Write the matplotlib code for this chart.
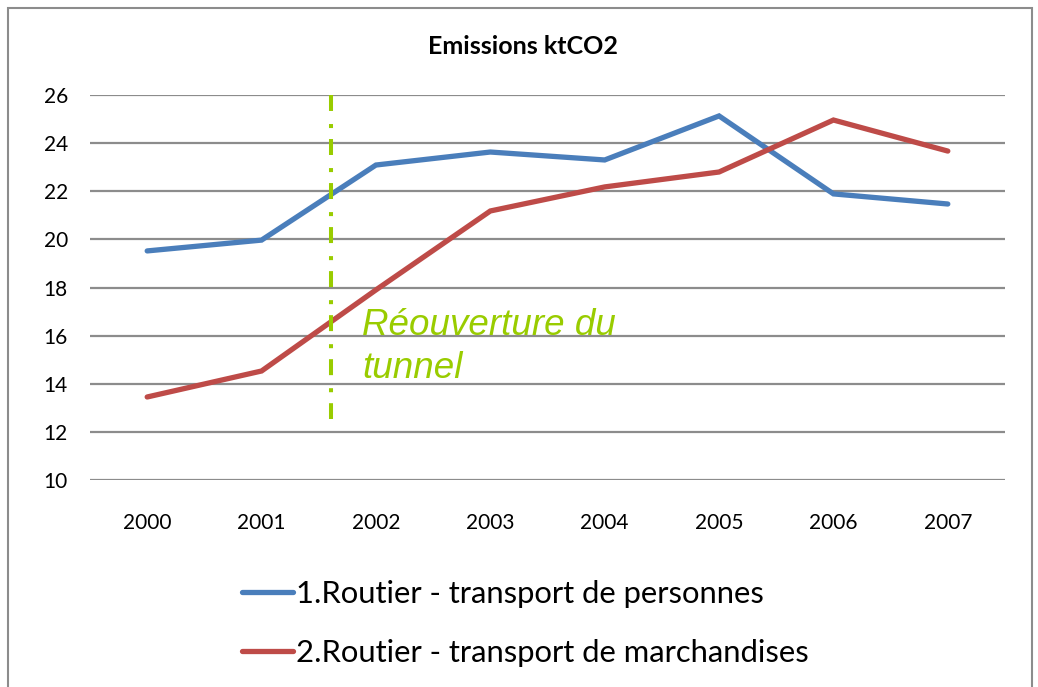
import matplotlib
matplotlib.use("Agg")
import matplotlib.pyplot as plt
from matplotlib.patches import Rectangle

years = ["2000", "2001", "2002", "2003", "2004", "2005", "2006", "2007"]
personnes = [19.52, 19.97, 23.09, 23.63, 23.3, 25.13, 21.89, 21.47]
marchandises = [13.45, 14.53, 17.9, 21.18, 22.18, 22.8, 24.96, 23.67]
label_personnes = "1.Routier - transport de personnes"
label_marchandises = "2.Routier - transport de marchandises"
title = "Emissions ktCO2"
annotation = "Réouverture du\ntunnel"
reopen_pos = 1.61
reopen_ymax = 12.55
yticks = [10, 12, 14, 16, 18, 20, 22, 24, 26]

W, H = 1038, 687
plt.rcParams['lines.scale_dashes'] = False
fig = plt.figure(figsize=(W / 100, H / 100), dpi=100)
plt.rcParams['font.family'] = ['Lato', 'DejaVu Sans']

ax = fig.add_axes([90 / W, 1 - 480 / H, (1005 - 90) / W, (480 - 95) / H])
x = list(range(len(years)))
l1, = ax.plot(x, personnes, color='#4A7EBB', lw=3.8, solid_capstyle='round', solid_joinstyle='miter', zorder=3)
l2, = ax.plot(x, marchandises, color='#BE4B48', lw=3.8, solid_capstyle='round', solid_joinstyle='miter', zorder=3)

ax.set_xlim(-0.5, len(years) - 0.5)
ax.set_ylim(10, 26)
ax.set_yticks(yticks)
ax.set_xticks(x)
ax.set_xticklabels(years)
ax.grid(axis='y', color='#8C8C8C', lw=1.6, zorder=0)
for s in ax.spines.values():
    s.set_visible(False)
ax.tick_params(axis='both', length=0, labelsize=15, colors='black')
ax.tick_params(axis='y', pad=16)
ax.tick_params(axis='x', pad=24)

ax.plot([reopen_pos, reopen_pos], [26, reopen_ymax], color='#99CC00', lw=2.9,
        dashes=(11.5, 9.4, 2.9, 7.9), solid_capstyle='butt',
        dash_capstyle='butt', zorder=4)
ax.text(reopen_pos + 0.27, 17.15, annotation, color='#99CC00', fontsize=26.5,
        style='italic', family=['Liberation Sans', 'DejaVu Sans'], va='top',
        ha='left', linespacing=1.3, zorder=4)

fig.text(523 / W, 1 - 47 / H, title, ha='center', va='center', fontsize=18,
         fontweight='bold')

fig.legend([l1, l2], [label_personnes, label_marchandises], loc='upper left',
           bbox_to_anchor=(242 / W, 1 - 580 / H), frameon=False, fontsize=22.3,
           handlelength=1.65, handletextpad=0.1, labelspacing=1.0,
           borderpad=0, borderaxespad=0)

fig.add_artist(Rectangle((8 / W, -0.05), (1032 - 8) / W, 1 - 8 / H + 0.05,
                         transform=fig.transFigure, fill=False,
                         edgecolor='#8C8C8C', lw=1.5))

fig.savefig("out.png", dpi=100)
